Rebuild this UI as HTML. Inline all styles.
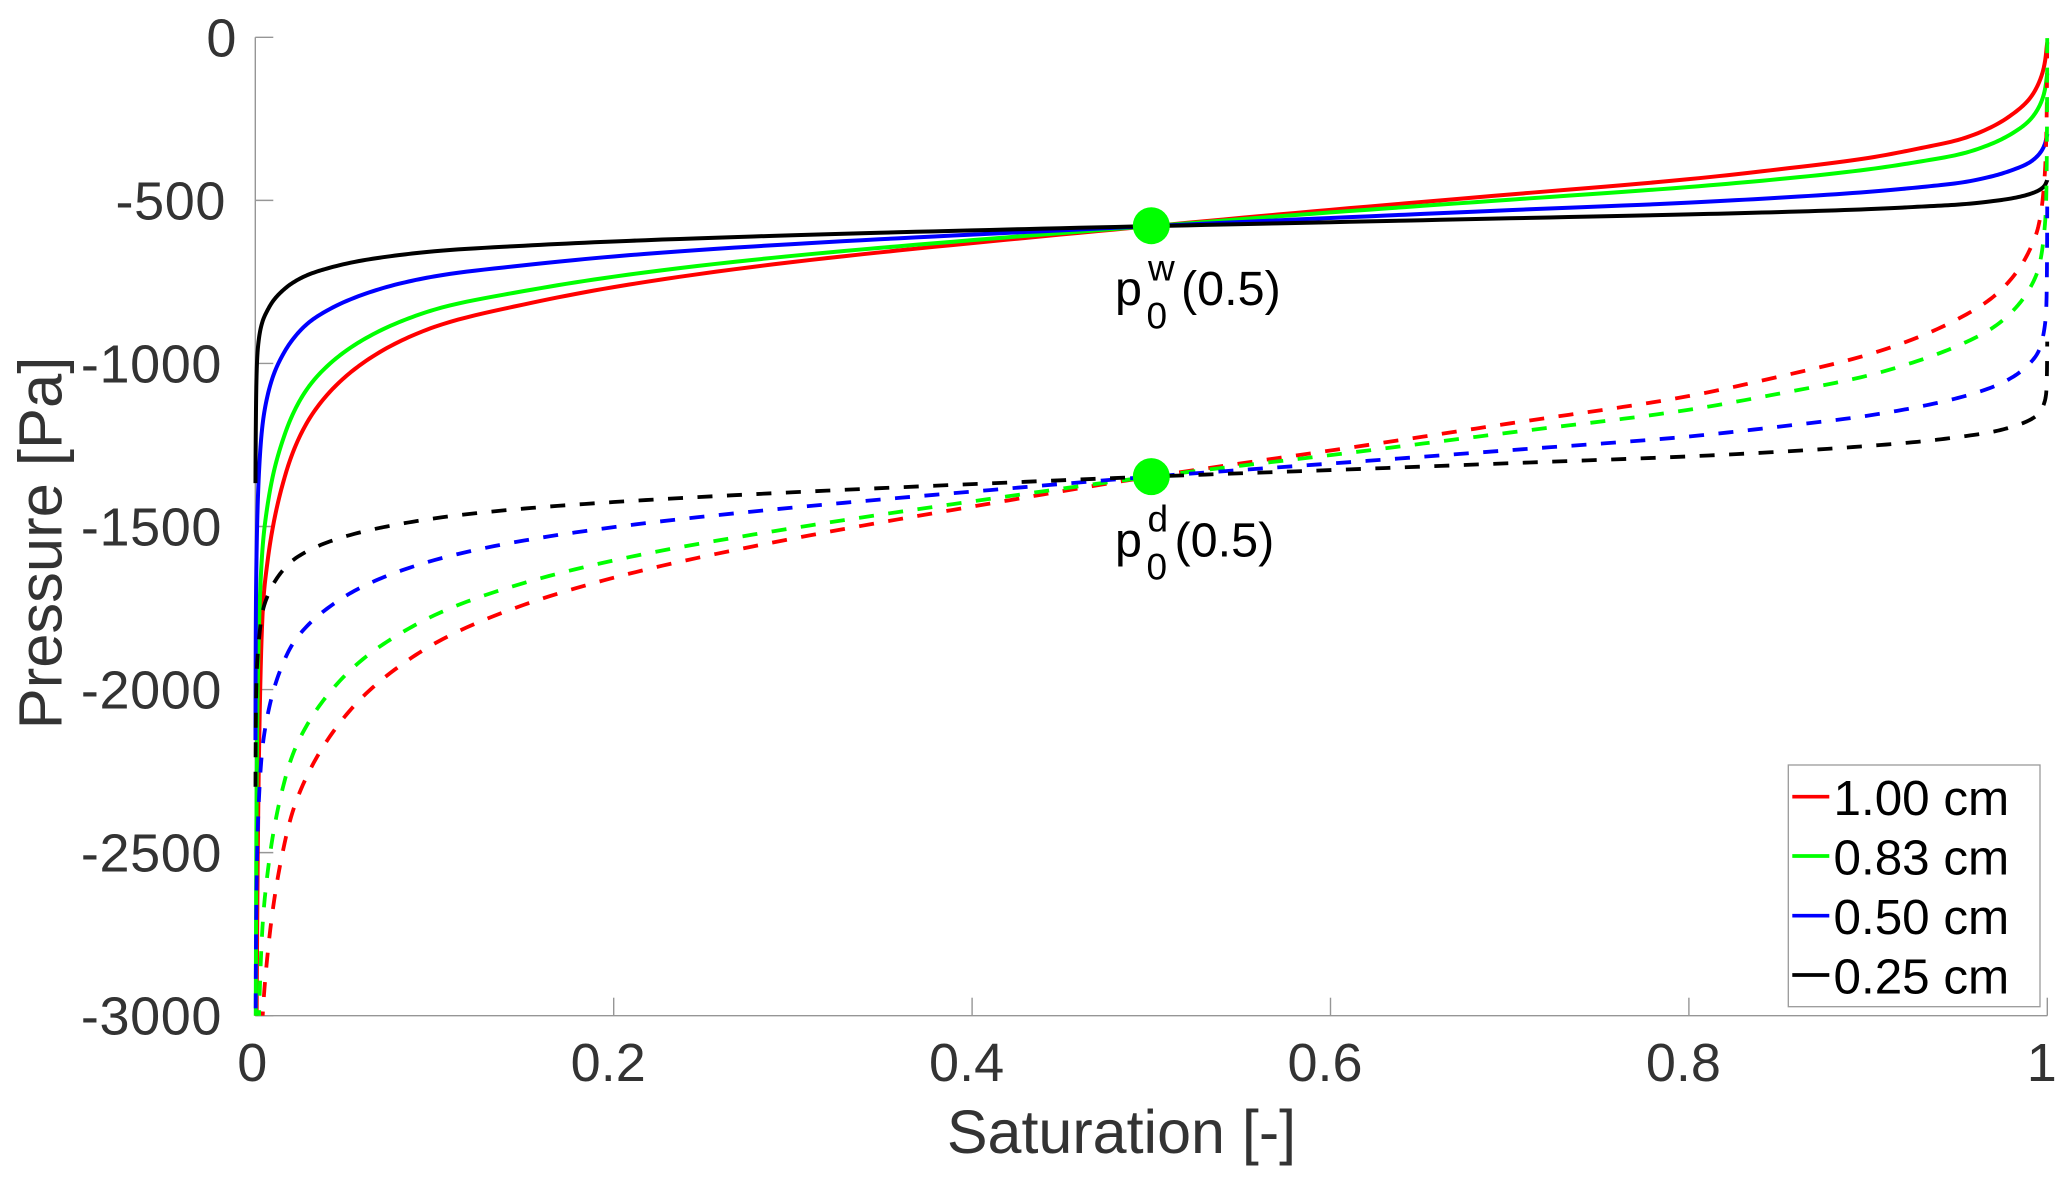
<!DOCTYPE html>
<html lang="en">
<head>
<meta charset="utf-8">
<title>Pressure vs Saturation</title>
<style>
html,body{margin:0;padding:0;background:#fff;width:2067px;height:1184px;overflow:hidden;}
svg{display:block;}
text{font-family:"Liberation Sans",Arial,sans-serif;}
</style>
</head>
<body>
<svg id="chart" xmlns="http://www.w3.org/2000/svg" width="2067" height="1184" viewBox="0 0 2067 1184">
  <rect x="0" y="0" width="2067" height="1184" fill="#ffffff"/>
  <defs>
    <clipPath id="plot-clip"><rect x="248" y="37.3" width="1810" height="978.4"/></clipPath>
  </defs>
  <g id="axes"></g>
  <g id="series" clip-path="url(#plot-clip)"></g>
  <g id="markers"></g>

  <text x="1121.5" y="1153" font-size="61" fill="#333333" text-anchor="middle">Saturation [-]</text>
  <text transform="translate(61.5 543) rotate(-90)" font-size="61.5" fill="#333333" text-anchor="middle">Pressure [Pa]</text>

  <g fill="#000000">
    <text x="1115" y="305" font-size="48.5">p</text>
    <text x="1148" y="280.7" font-size="37">w</text>
    <text x="1146.5" y="328.3" font-size="37">0</text>
    <text x="1181" y="305" font-size="48.5">(0.5)</text>
  </g>
  <g fill="#000000">
    <text x="1115" y="556.7" font-size="48.5">p</text>
    <text x="1147.5" y="531.7" font-size="37">d</text>
    <text x="1146.5" y="579.3" font-size="37">0</text>
    <text x="1174.5" y="556.7" font-size="48.5">(0.5)</text>
  </g>

  <g>
    <rect x="1788.3" y="765" width="251.7" height="241.7" fill="#ffffff" stroke="#9a9a9a" stroke-width="1.3"/>
    <g>
      <line x1="1792.3" x2="1829.3" y1="796.7" y2="796.7" stroke="#ff0000" stroke-width="3.7"/>
      <text x="1833.5" y="815" font-size="49.4" fill="#000000">1.00 cm</text>
    </g>
    <g>
      <line x1="1792.3" x2="1829.3" y1="856" y2="856" stroke="#00ff00" stroke-width="3.7"/>
      <text x="1833.5" y="874.3" font-size="49.4" fill="#000000">0.83 cm</text>
    </g>
    <g>
      <line x1="1792.3" x2="1829.3" y1="915.7" y2="915.7" stroke="#0000ff" stroke-width="3.7"/>
      <text x="1833.5" y="934" font-size="49.4" fill="#000000">0.50 cm</text>
    </g>
    <g>
      <line x1="1792.3" x2="1829.3" y1="975" y2="975" stroke="#000000" stroke-width="3.7"/>
      <text x="1833.5" y="993.3" font-size="49.4" fill="#000000">0.25 cm</text>
    </g>
  </g>
</svg>

<script>
// ---- chart data ----
const saturation = [0.0001,0.0003,0.0006,0.001,0.002,0.004,0.007,0.01,0.015,0.02,0.03,0.04,0.06,0.08,0.1,0.15,0.2,0.3,0.4,0.5,0.6,0.7,0.8,0.85,0.9,0.93,0.95,0.97,0.98,0.99,0.995,0.998,0.9995,1];

const wetting100 = [-3480,-3400,-3150,-2760,-2220,-1775,-1600,-1496,-1376,-1287,-1171,-1097,-999,-934,-888,-819,-766,-689,-631,-579,-529,-482,-435,-405,-370,-339,-315,-272,-238,-189,-143,-94,-39,-15];
const wetting083 = [-3400,-2950,-2450,-2150,-1820,-1570,-1429,-1340,-1241,-1167,-1070,-1009,-928,-874,-835,-778,-734,-670,-622,-579,-537,-498,-459,-435,-405,-380,-360,-324,-296,-255,-217,-176,-131,-111];
const wetting050 = [-2155,-1790,-1620,-1500,-1340,-1190,-1095,-1038,-977,-933,-874,-838,-789,-756,-733,-699,-672,-634,-605,-579,-554,-530,-507,-492,-474,-459,-447,-425,-408,-384,-361,-336,-309,-297];
const wetting025 = [-1367,-1190,-1060,-990,-925,-872,-835,-808,-778,-756,-727,-709,-684,-668,-656,-639,-626,-607,-592,-579,-567,-555,-543,-536,-527,-519,-513,-502,-494,-481,-470,-458,-444,-438];

const drainage100 = [-3480,-3480,-3480,-3480,-3356,-3012,-2804,-2666,-2506,-2390,-2252,-2157,-2022,-1930,-1859,-1740,-1657,-1537,-1439,-1347,-1267,-1184,-1100,-1041,-973,-915,-864,-795,-740,-654,-580,-464,-289,60];
const drainage083 = [-3480,-3480,-3434,-3256,-3014,-2729,-2556,-2442,-2309,-2213,-2098,-2019,-1907,-1831,-1772,-1673,-1604,-1505,-1423,-1347,-1281,-1212,-1142,-1093,-1037,-988,-946,-889,-843,-772,-710,-614,-469,27];
const drainage050 = [-3249,-2850,-2640,-2510,-2340,-2179,-2075,-2006,-1926,-1868,-1799,-1752,-1684,-1638,-1603,-1543,-1502,-1442,-1393,-1347,-1307,-1266,-1224,-1194,-1160,-1131,-1106,-1071,-1044,-1001,-964,-906,-818,-519];
const drainage025 = [-2298,-2094,-1985,-1925,-1849,-1763,-1711,-1677,-1637,-1608,-1573,-1549,-1516,-1493,-1475,-1445,-1425,-1395,-1370,-1347,-1327,-1306,-1285,-1271,-1253,-1239,-1226,-1209,-1195,-1174,-1155,-1126,-1082,-933];

const seriesLabels = ['1.00 cm','0.83 cm','0.50 cm','0.25 cm'];
const xTickValues = [0,0.2,0.4,0.6,0.8,1];
const xTickLabels = ['0','0.2','0.4','0.6','0.8','1'];
const yTickValues = [0,-500,-1000,-1500,-2000,-2500,-3000];
const yTickLabels = ['0','-500','-1000','-1500','-2000','-2500','-3000'];
const markerSaturation = [0.5,0.5];
const markerPressure = [-577.7,-1347];

// ---- axis functions ----
const SVG_NS = 'http://www.w3.org/2000/svg';
function xScale(s){ return 255.3 + 1792 * s; }
function yScale(p){ return 37.3 - p * (978.4 / 3000); }

// The curves are steep at both ends, so they are interpolated in logit(saturation).
function logit(s){
  const c = Math.min(Math.max(s, 1e-5), 1 - 5e-5);
  return Math.log(c / (1 - c));
}
function invLogit(t){ return 1 / (1 + Math.exp(-t)); }

function curvePath(sValues, pValues){
  const n = sValues.length, u = sValues.map(logit), m = [], tan = [];
  for (let i = 0; i < n - 1; i++) m.push((pValues[i+1] - pValues[i]) / (u[i+1] - u[i]));
  tan[0] = m[0];
  tan[n-1] = m[n-2];
  for (let i = 1; i < n - 1; i++) {
    if (m[i-1] * m[i] <= 0) { tan[i] = 0; continue; }
    const h0 = u[i] - u[i-1], h1 = u[i+1] - u[i];
    const d = (m[i-1] * h1 + m[i] * h0) / (h0 + h1);
    const lim = 3 * Math.min(Math.abs(m[i-1]), Math.abs(m[i]));
    tan[i] = Math.sign(d) * Math.min(Math.abs(d), lim);
  }
  let path = 'M' + xScale(sValues[0]).toFixed(2) + ' ' + yScale(pValues[0]).toFixed(2);
  const SUB = 10;
  for (let i = 0; i < n - 1; i++) {
    const h = u[i+1] - u[i];
    for (let k = 1; k <= SUB; k++) {
      const a = k / SUB, a2 = a * a, a3 = a2 * a;
      const p = (2*a3 - 3*a2 + 1) * pValues[i] + (a3 - 2*a2 + a) * h * tan[i] +
                (-2*a3 + 3*a2) * pValues[i+1] + (a3 - a2) * h * tan[i+1];
      const s = invLogit(u[i] + a * h);
      path += 'L' + xScale(s).toFixed(2) + ' ' + yScale(p).toFixed(2);
    }
  }
  return path;
}

// ---- axes ----
const axes = document.getElementById('axes');
const AXIS_COLOR = '#969696';

const yAxisLine = document.createElementNS(SVG_NS, 'line');


yAxisLine.setAttribute('x1', xScale(0));
yAxisLine.setAttribute('x2', xScale(0));
yAxisLine.setAttribute('y1', yScale(0));
yAxisLine.setAttribute('y2', yScale(-3000));
yAxisLine.setAttribute('stroke', AXIS_COLOR);
yAxisLine.setAttribute('stroke-width', '1.4');
axes.appendChild(yAxisLine);

const xAxisLine = document.createElementNS(SVG_NS, 'line');


xAxisLine.setAttribute('x1', xScale(0));
xAxisLine.setAttribute('x2', xScale(1));
xAxisLine.setAttribute('y1', yScale(-3000));
xAxisLine.setAttribute('y2', yScale(-3000));
xAxisLine.setAttribute('stroke', AXIS_COLOR);
xAxisLine.setAttribute('stroke-width', '1.4');
axes.appendChild(xAxisLine);

yTickValues.forEach(function(v, i){
  const y = yScale(v);
  const tick = document.createElementNS(SVG_NS, 'line');
  
  
  tick.setAttribute('x1', xScale(0));
  tick.setAttribute('x2', xScale(0) + 18);
  tick.setAttribute('y1', y);
  tick.setAttribute('y2', y);
  tick.setAttribute('stroke', AXIS_COLOR);
  tick.setAttribute('stroke-width', '1.4');
  axes.appendChild(tick);

  const label = document.createElementNS(SVG_NS, 'text');
  
  
  const len = yTickLabels[i].length;
  label.setAttribute('x', len === 1 ? 237 : (len === 4 ? 226 : 222));
  label.setAttribute('y', y + 19);
  label.setAttribute('text-anchor', 'end');
  label.setAttribute('font-size', '54');
  label.setAttribute('letter-spacing', '0.6');
  label.setAttribute('fill', '#333333');
  label.textContent = yTickLabels[i];
  axes.appendChild(label);
});

xTickValues.forEach(function(v, i){
  const x = xScale(v);
  const tick = document.createElementNS(SVG_NS, 'line');
  
  
  tick.setAttribute('x1', x);
  tick.setAttribute('x2', x);
  tick.setAttribute('y1', yScale(-3000));
  tick.setAttribute('y2', yScale(-3000) - 18);
  tick.setAttribute('stroke', AXIS_COLOR);
  tick.setAttribute('stroke-width', '1.4');
  axes.appendChild(tick);

  const label = document.createElementNS(SVG_NS, 'text');
  
  
  label.setAttribute('x', x - (v === 0 ? 3 : 5.5));
  label.setAttribute('y', 1081);
  label.setAttribute('text-anchor', 'middle');
  label.setAttribute('font-size', '54');
  label.setAttribute('fill', '#333333');
  label.textContent = xTickLabels[i];
  axes.appendChild(label);
});

// ---- series ----
const seriesGroup = document.getElementById('series');
const seriesColors = ['#ff0000','#00ff00','#0000ff','#000000'];
const wettingCurves = [wetting100, wetting083, wetting050, wetting025];
const drainageCurves = [drainage100, drainage083, drainage050, drainage025];

wettingCurves.forEach(function(values, i){
  const path = document.createElementNS(SVG_NS, 'path');
  
  
  path.setAttribute('d', curvePath(saturation, values));
  path.setAttribute('fill', 'none');
  path.setAttribute('stroke', seriesColors[i]);
  path.setAttribute('stroke-width', '4');
  path.setAttribute('stroke-linejoin', 'round');
  seriesGroup.appendChild(path);
});

drainageCurves.forEach(function(values, i){
  const path = document.createElementNS(SVG_NS, 'path');
  
  
  path.setAttribute('d', curvePath(saturation, values));
  path.setAttribute('fill', 'none');
  path.setAttribute('stroke', seriesColors[i]);
  path.setAttribute('stroke-width', '3.8');
  path.setAttribute('stroke-dasharray', '15 14.5');
  seriesGroup.appendChild(path);
});

// ---- markers ----
const markerGroup = document.getElementById('markers');
markerSaturation.forEach(function(s, i){
  const dot = document.createElementNS(SVG_NS, 'circle');
  
  
  dot.setAttribute('cx', xScale(s));
  dot.setAttribute('cy', yScale(markerPressure[i]));
  dot.setAttribute('r', '18.5');
  dot.setAttribute('fill', '#00ff00');
  markerGroup.appendChild(dot);
});
</script>
</body>
</html>
